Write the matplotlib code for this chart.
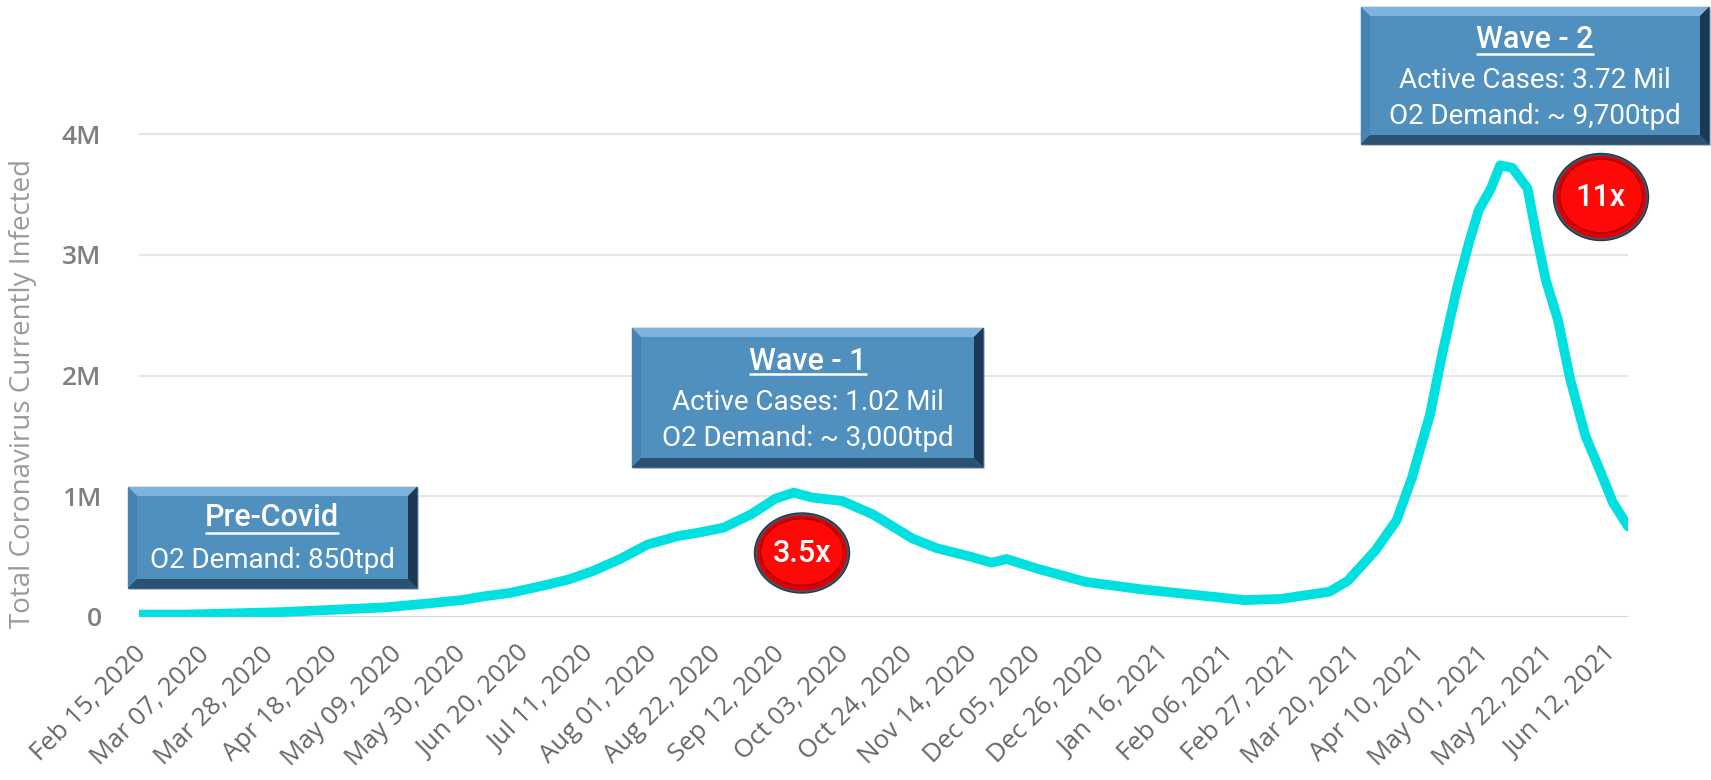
import numpy as np
import pandas as pd
import matplotlib
matplotlib.use("Agg")
import matplotlib.pyplot as plt
from matplotlib.patches import Rectangle, Polygon, Ellipse

# active cases (millions)
dates = pd.to_datetime([
    "2020-02-14", "2020-02-29", "2020-03-16", "2020-03-31", "2020-04-18",
    "2020-05-05", "2020-05-18", "2020-05-30", "2020-06-06", "2020-06-15",
    "2020-06-24", "2020-07-04", "2020-07-12", "2020-07-21", "2020-07-30",
    "2020-08-09", "2020-08-16", "2020-08-24", "2020-09-02", "2020-09-10",
    "2020-09-16", "2020-09-22", "2020-10-02", "2020-10-12", "2020-10-25",
    "2020-11-02", "2020-11-13", "2020-11-20", "2020-11-25", "2020-12-05",
    "2020-12-21", "2021-01-08", "2021-01-27", "2021-02-11", "2021-02-23",
    "2021-03-11", "2021-03-17", "2021-03-26", "2021-04-02", "2021-04-07",
    "2021-04-13", "2021-04-17", "2021-04-22", "2021-04-26", "2021-04-29",
    "2021-05-03", "2021-05-06", "2021-05-10", "2021-05-15", "2021-05-18",
    "2021-05-21", "2021-05-25", "2021-05-29", "2021-06-03", "2021-06-08",
    "2021-06-12", "2021-06-17",
])
active_mil = [
    0.02, 0.02, 0.03, 0.04, 0.06,
    0.08, 0.11, 0.14, 0.17, 0.20,
    0.25, 0.31, 0.38, 0.48, 0.60,
    0.67, 0.70, 0.74, 0.85, 0.98,
    1.03, 0.99, 0.96, 0.85, 0.65,
    0.57, 0.50, 0.45, 0.48, 0.40,
    0.29, 0.23, 0.18, 0.14, 0.15,
    0.21, 0.30, 0.55, 0.80, 1.15,
    1.68, 2.18, 2.74, 3.12, 3.37,
    3.55, 3.74, 3.72, 3.55, 3.15,
    2.79, 2.46, 1.97, 1.50, 1.20,
    0.95, 0.75,
]
tick_dates = pd.date_range("2020-02-15", periods=24, freq="21D")
y_ticks = [0, 1e6, 2e6, 3e6, 4e6]
y_labels = ["0", "1M", "2M", "3M", "4M"]

W, H = 1711, 780
fig = plt.figure(figsize=(W / 100, H / 100), dpi=100)
ax = fig.add_axes([139 / W, 1 - 617 / H, (1628 - 139) / W, (617 - 85.7) / H])

ax.plot(dates, np.array(active_mil) * 1e6, color="#00e0e0", lw=7,
        solid_capstyle="round", solid_joinstyle="round", zorder=3)
ax.set_xlim(pd.Timestamp("2020-02-14"), pd.Timestamp("2021-06-17"))
ax.set_ylim(0, 4.4e6)

for v in y_ticks[1:]:
    ax.axhline(v, color="#e6e6e6", lw=1.6, zorder=1)
ax.axhline(0, color="#ccd6eb", lw=2.2, zorder=2)
for s in ax.spines.values():
    s.set_visible(False)

ax.set_xticks(tick_dates)
ax.set_xticklabels([d.strftime("%b %d, %Y") for d in tick_dates],
                   rotation=45, ha="right", va="center", rotation_mode="anchor",
                   fontsize=18.5, color="#666666", family="Open Sans")
ax.set_yticks(y_ticks)
ax.set_yticklabels(y_labels, fontsize=19, color="#7f7f7f",
                   family="Open Sans", fontweight="semibold")
ax.tick_params(axis="both", length=0)
ax.tick_params(axis="x", pad=24)
ax.tick_params(axis="y", pad=27)
ax.set_ylabel("Total Coronavirus Currently Infected", fontsize=20,
              color="#9a9a9a", family="Open Sans")
ax.yaxis.set_label_coords((37 - 139) / 1489, (617 - 394) / (617 - 85.7))

# overlay in pixel coordinates for the callouts
ov = fig.add_axes([0, 0, 1, 1], zorder=10)
ov.set_xlim(0, W)
ov.set_ylim(H, 0)
ov.axis("off")
ov.patch.set_alpha(0)


def bevel_box(x0, y0, x1, y1, b=9):
    ov.add_patch(Rectangle((x0 + 2, y0 + 2), x1 - x0, y1 - y0, fc="#d4d8de", ec="none"))
    ov.add_patch(Rectangle((x0, y0), x1 - x0, y1 - y0, fc="#5090be", ec="#3b6386", lw=1))
    ov.add_patch(Polygon([(x0, y0), (x1, y0), (x1 - b, y0 + b), (x0 + b, y0 + b)],
                         fc="#7fb2dc", ec="none"))
    ov.add_patch(Polygon([(x0, y0), (x0 + b, y0 + b), (x0 + b, y1 - b), (x0, y1)],
                         fc="#4682b2", ec="none"))
    ov.add_patch(Polygon([(x0, y1), (x0 + b, y1 - b), (x1 - b, y1 - b), (x1, y1)],
                         fc="#2b5273", ec="none"))
    ov.add_patch(Polygon([(x1, y0), (x1, y1), (x1 - b, y1 - b), (x1 - b, y0 + b)],
                         fc="#1c3954", ec="none"))


def box_text(cx, title_y, lines, line_ys):
    t = ov.text(cx, title_y, lines[0], ha="center", va="center",
                color="white", fontsize=22, fontweight="medium", family="Roboto")
    for txt, y in zip(lines[1:], line_ys):
        ov.text(cx, y, txt, ha="center", va="center", color="white",
                fontsize=20, family="Roboto")
    return t


titles = []
bevel_box(128, 487, 417, 588)
titles.append((box_text(272, 518, ["Pre-Covid", "O2 Demand: 850tpd"], [560]), 533))
bevel_box(632, 328, 983, 467)
titles.append((box_text(808, 361, ["Wave - 1", "Active Cases: 1.02 Mil",
                                   "O2 Demand: ~ 3,000tpd"], [402, 438]), 374))
bevel_box(1361, 7, 1709, 144)
titles.append((box_text(1535, 39, ["Wave - 2", "Active Cases: 3.72 Mil",
                                   "O2 Demand: ~ 9,700tpd"], [80, 117]), 54))

fig.canvas.draw()
inv = ov.transData.inverted()
for t, uy in titles:
    bb = t.get_window_extent()
    (xa, _), (xb, _) = inv.transform([(bb.x0, bb.y0), (bb.x1, bb.y0)])
    ov.plot([xa, xb], [uy, uy], color="white", lw=1.8, solid_capstyle="butt")


def badge(cx, cy, w, h, label):
    ov.add_patch(Ellipse((cx, cy), w, h, fc="#3f5468", ec="#2a3746", lw=1))
    ov.add_patch(Ellipse((cx, cy), w - 5, h - 5, fc="#e00000", ec="none"))
    ov.add_patch(Ellipse((cx, cy - 1), w - 12, h - 13, fc="#ff0808", ec="#b00000", lw=1.2))
    ov.text(cx, cy, label, ha="center", va="center", color="white",
            fontsize=22, fontweight="medium", family="Roboto")


badge(802, 553, 95, 80, "3.5x")
badge(1601, 197, 95, 87, "11x")

fig.savefig("out.png", dpi=100)
